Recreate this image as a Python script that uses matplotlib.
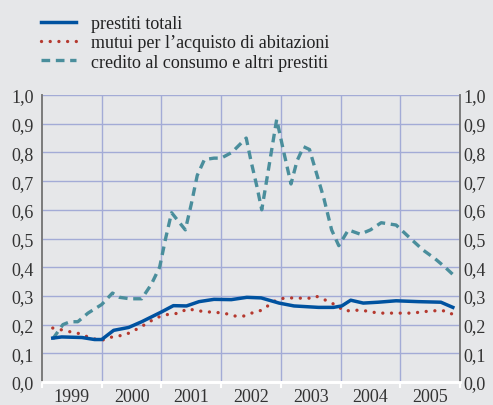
import matplotlib
matplotlib.use("Agg")
import matplotlib.pyplot as plt
from matplotlib.ticker import FixedLocator, FuncFormatter

plt.rcParams['font.family'] = ['Liberation Serif', 'DejaVu Serif']

# tempo in anni frazionari
t_tot = [1999.18, 1999.33, 1999.67, 1999.88, 2000.0, 2000.2, 2000.45, 2000.67,
         2001.0, 2001.2, 2001.42, 2001.63, 2001.88, 2002.17, 2002.43, 2002.67,
         2002.97, 2003.22, 2003.63, 2003.88, 2004.02, 2004.17, 2004.38, 2004.63,
         2004.93, 2005.3, 2005.68, 2005.88]
prestiti_totali = [0.153, 0.157, 0.155, 0.148, 0.148, 0.18, 0.19, 0.21,
                   0.244, 0.266, 0.265, 0.28, 0.288, 0.287, 0.295, 0.293,
                   0.275, 0.265, 0.26, 0.26, 0.265, 0.285, 0.275, 0.278,
                   0.283, 0.28, 0.278, 0.26]

t_mutui = [1999.18, 1999.3, 1999.47, 1999.6, 1999.73, 1999.88, 2000.0, 2000.13,
           2000.27, 2000.4, 2000.55, 2000.68, 2000.8, 2000.93, 2001.1, 2001.3,
           2001.43, 2001.57, 2001.72, 2001.88, 2002.05, 2002.22, 2002.38, 2002.55,
           2002.68, 2002.8, 2002.92, 2003.05, 2003.2, 2003.35, 2003.47, 2003.58,
           2003.75, 2003.92, 2004.07, 2004.2, 2004.35, 2004.5, 2004.63, 2004.77,
           2004.92, 2005.07, 2005.22, 2005.37, 2005.52, 2005.67, 2005.8, 2005.92]
mutui = [0.188, 0.183, 0.175, 0.17, 0.16, 0.15, 0.145, 0.155,
         0.16, 0.165, 0.18, 0.195, 0.21, 0.225, 0.235, 0.24,
         0.255, 0.25, 0.245, 0.243, 0.24, 0.23, 0.23, 0.243,
         0.25, 0.268, 0.285, 0.292, 0.293, 0.292, 0.292, 0.30,
         0.285, 0.268, 0.247, 0.25, 0.25, 0.245, 0.24, 0.24,
         0.24, 0.24, 0.24, 0.245, 0.247, 0.25, 0.245, 0.23]

t_cons = [1999.18, 1999.35, 1999.47, 1999.6, 1999.77, 2000.0, 2000.18, 2000.3,
          2000.47, 2000.67, 2000.83, 2000.97, 2001.07, 2001.17, 2001.4, 2001.5,
          2001.6, 2001.72, 2001.88, 2002.0, 2002.18, 2002.42, 2002.5, 2002.6,
          2002.68, 2002.8, 2002.93, 2003.05, 2003.17, 2003.27, 2003.38, 2003.48,
          2003.72, 2003.85, 2003.97, 2004.13, 2004.33, 2004.5, 2004.68, 2004.93,
          2005.17, 2005.38, 2005.58, 2005.75, 2005.93]
credito_consumo = [0.15, 0.20, 0.21, 0.21, 0.24, 0.27, 0.31, 0.295,
                   0.29, 0.29, 0.34, 0.40, 0.50, 0.59, 0.53, 0.62,
                   0.72, 0.775, 0.78, 0.78, 0.80, 0.85, 0.77, 0.68,
                   0.60, 0.75, 0.915, 0.80, 0.69, 0.77, 0.82, 0.81,
                   0.64, 0.53, 0.475, 0.53, 0.515, 0.53, 0.555, 0.547,
                   0.50, 0.46, 0.43, 0.40, 0.365]

anni = [1999, 2000, 2001, 2002, 2003, 2004, 2005]
yticks = [0.0, 0.1, 0.2, 0.3, 0.4, 0.5, 0.6, 0.7, 0.8, 0.9, 1.0]

bg = '#e6e7e9'
grid_col = '#a3abd6'
fs = 13

fig = plt.figure(figsize=(4.93, 4.06), dpi=100, facecolor=bg)
ax = fig.add_axes([42 / 493, 23 / 406, 418 / 493, 287 / 406])
ax.set_facecolor(bg)

l1, = ax.plot(t_tot, prestiti_totali, color='#0052a0', lw=2.5,
              solid_joinstyle='round', zorder=4, label='prestiti totali')
l2, = ax.plot(t_mutui, mutui, color='#b5392f', lw=2.4,
              linestyle=(0, (0.01, 2.6)), dash_capstyle='round', zorder=3,
              label='mutui per l\u2019acquisto di abitazioni')
l3, = ax.plot(t_cons, credito_consumo, color='#4a8e9c', lw=2.4,
              linestyle=(0, (2.6, 1.7)), dash_capstyle='butt', zorder=3,
              label='credito al consumo e altri prestiti')

ax.set_xlim(1999, 2006)
ax.set_ylim(0, 1.0)

# griglia
for y in yticks[1:]:
    ax.axhline(y, color=grid_col, lw=1, zorder=1)
for a in anni[1:]:
    ax.axvline(a, color=grid_col, lw=1, zorder=1)

fmt = FuncFormatter(lambda v, p: f'{v:.1f}'.replace('.', ','))
ax.set_yticks(yticks)
ax.yaxis.set_major_formatter(fmt)
ax.tick_params(axis='y', length=0, pad=6, labelsize=fs, colors='#333333')

ax.xaxis.set_major_locator(FixedLocator(anni + [2006]))
ax.xaxis.set_minor_locator(FixedLocator([a + 0.5 for a in anni]))
ax.set_xticklabels([])
ax.set_xticklabels([str(a) for a in anni], minor=True)
ax.tick_params(axis='x', which='major', length=4, width=1.5, color='white', direction='out')
ax.tick_params(axis='x', which='minor', length=0, pad=4, labelsize=fs, labelcolor='#333333')

ax2 = ax.twinx()
ax2.set_ylim(0, 1.0)
ax2.set_yticks(yticks)
ax2.yaxis.set_major_formatter(fmt)
ax2.tick_params(axis='y', length=0, pad=2.5, labelsize=fs, colors='#333333')

for a_ in (ax, ax2):
    a_.spines['top'].set_visible(False)
    a_.spines['bottom'].set_color('white')
    a_.spines['bottom'].set_linewidth(2)
    a_.spines['left'].set_color('#7a7a7a')
    a_.spines['left'].set_linewidth(1.2)
    a_.spines['right'].set_color('#7a7a7a')
    a_.spines['right'].set_linewidth(1.2)

fig.legend(handles=[l1, l2, l3], loc='upper left', bbox_to_anchor=(34 / 493, 1 - 9 / 406),
           frameon=False, fontsize=fs, handlelength=1.9, handletextpad=0.85,
           labelspacing=0.12, borderaxespad=0, labelcolor='#222222')

fig.savefig('out.png', dpi=100, facecolor=bg)
